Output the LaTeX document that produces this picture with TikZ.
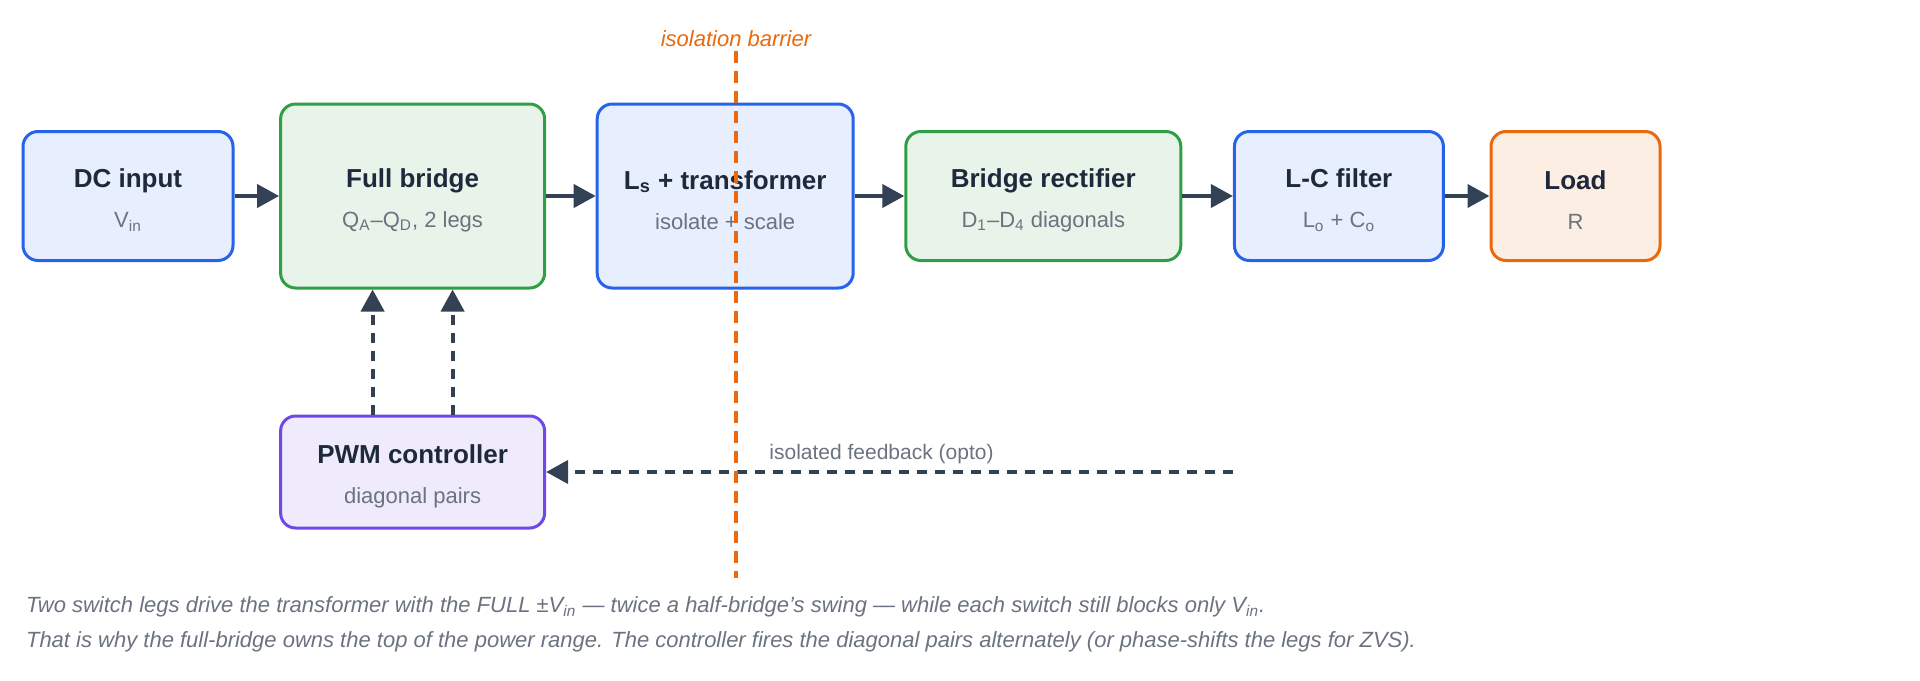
\documentclass[tikz,border=0pt]{standalone}
\usepackage{fontspec}
\setmainfont{Liberation Sans}
\definecolor{blueln}{HTML}{2563EB}
\definecolor{greenln}{HTML}{2F9E44}
\definecolor{orangeln}{HTML}{EB680C}
\definecolor{purpleln}{HTML}{7048E8}
\definecolor{wire}{HTML}{334155}
\definecolor{titletxt}{HTML}{1E293B}
\definecolor{subtxt}{HTML}{6B7280}
\usetikzlibrary{positioning,arrows.meta}
\newcommand{\ttl}[1]{\rule{0pt}{13.5pt}\textbf{#1}}
\newcommand{\subline}[1]{{\fontsize{11pt}{13pt}\selectfont\color{subtxt}#1}}

\begin{document}
\begin{tikzpicture}[node distance=24.8pt,
      block/.style={draw=#1,fill=#1!11,line width=1.5pt,rounded corners=7.5pt,align=center,text=titletxt,font=\fontsize{13pt}{15pt}\selectfont,minimum height=64.5pt},
      arrow/.style={-{Triangle[length=11pt,width=11.5pt]},line width=2pt,color=wire},
      dasharrow/.style={arrow,dash pattern=on 5pt off 4pt},
      barrier/.style={color=orangeln,line width=1.75pt,dash pattern=on 6pt off 4pt},
      note/.style={anchor=west,text=subtxt,font=\fontsize{11pt}{13pt}\selectfont\itshape}]
      \useasboundingbox (0,0) rectangle (960pt,-340pt);
      \node[block=blueln,minimum width=105pt] (dcin) at (64pt,-98pt) {\ttl{DC input}\\[5pt]\subline{V\textsubscript{in}}};
      \node[block=greenln,minimum width=132pt,minimum height=92pt,right=22.3pt of dcin] (fullbr) {\ttl{Full bridge}\\[5pt]\subline{Q\textsubscript{A}--Q\textsubscript{D}, 2 legs}};
      \node[block=blueln,minimum width=128pt,minimum height=92pt,right=of fullbr] (xfmr) {\ttl{L\textsubscript{s} + transformer}\\[5pt]\subline{isolate + scale}};
      \node[block=greenln,minimum width=137.5pt,right=of xfmr] (rect) {\ttl{Bridge rectifier}\\[5pt]\subline{D\textsubscript{1}--D\textsubscript{4} diagonals}};
      \node[block=blueln,minimum width=104.5pt,right=25.3pt of rect] (lcfilt) {\ttl{L-C filter}\\[5pt]\subline{L\textsubscript{o} + C\textsubscript{o}}};
      \node[block=orangeln,minimum width=84.5pt,right=22.3pt of lcfilt] (load) {\ttl{Load}\\[5pt]\subline{R}};
      \node[block=purpleln,minimum width=132pt,minimum height=56pt,below=62.5pt of fullbr] (pwm) {\ttl{PWM controller}\\[5pt]\subline{diagonal pairs}};
      \draw[arrow] (dcin.east) -- (fullbr.west);
      \draw[arrow] (fullbr.east) -- (xfmr.west);
      \draw[arrow] (xfmr.east) -- (rect.west);
      \draw[arrow] (rect.east) -- (lcfilt.west);
      \draw[arrow] (lcfilt.east) -- (load.west);
      \draw[dasharrow] ([xshift=-20pt]pwm.north) -- ([xshift=-20pt]fullbr.south);
      \draw[dasharrow] ([xshift=20pt]pwm.north) -- ([xshift=20pt]fullbr.south);
      \coordinate (fbsrc) at (lcfilt.west |- pwm.east);
      \draw[dasharrow] (fbsrc) -- node[midway,above=-0.5pt,xshift=-4pt,text=subtxt,font=\fontsize{10.5pt}{12pt}\selectfont] (fbtxt) {isolated feedback (opto)} (pwm.east);
      % isolation barrier on top
      \coordinate (bartop) at (368pt,-25.5pt);
      \coordinate (barbot) at (368pt,-289pt);
      \draw[barrier] (bartop) -- (barbot);
      \node[above=-1.5pt of bartop,text=orangeln,font=\fontsize{11pt}{13pt}\selectfont\itshape] (bartxt) {isolation barrier};
      \node[note] (note1) at (9.5pt,-303.5pt) {Two switch legs drive the transformer with the FULL ±V\textsubscript{in} — twice a half-bridge’s swing — while each switch still blocks only V\textsubscript{in}.};
      \node[note] (note2) at ([yshift=-17.5pt]note1.west) {That is why the full-bridge owns the top of the power range. The controller fires the diagonal pairs alternately (or phase-shifts the legs for ZVS).};
    \end{tikzpicture}
\end{document}
